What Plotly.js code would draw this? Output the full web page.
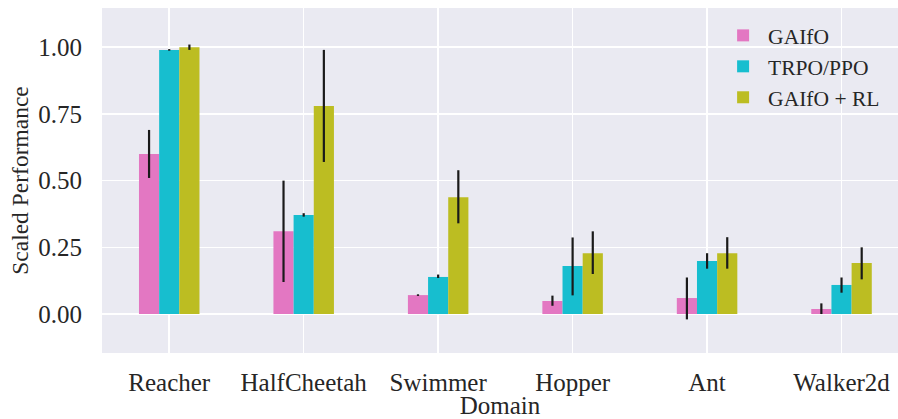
<!DOCTYPE html>
<html>
<head>
<meta charset="utf-8">
<script src="https://cdn.plot.ly/plotly-3.0.1.min.js"></script>
<style>html,body{margin:0;padding:0;background:#fff;}#chart{width:898px;height:419px;}</style>
</head>
<body>
<div id="chart"></div>
<script>
const categories = ["Reacher", "HalfCheetah", "Swimmer", "Hopper", "Ant", "Walker2d"];
const seriesNames = ["GAIfO", "TRPO/PPO", "GAIfO + RL"];

const gaifo      = [0.60, 0.31, 0.071, 0.049, 0.06, 0.019];
const gaifoLow   = [0.51, 0.12, 0.068, 0.031, -0.02, 0.00];
const gaifoHigh  = [0.69, 0.50, 0.074, 0.069, 0.137, 0.04];

const trpo       = [0.99, 0.371, 0.139, 0.18, 0.199, 0.109];
const trpoLow    = [0.987, 0.365, 0.135, 0.07, 0.17, 0.08];
const trpoHigh   = [0.993, 0.378, 0.148, 0.287, 0.228, 0.137];

const gaifoRL     = [1.00, 0.78, 0.438, 0.228, 0.228, 0.191];
const gaifoRLLow  = [0.99, 0.57, 0.34, 0.15, 0.17, 0.13];
const gaifoRLHigh = [1.01, 0.99, 0.539, 0.31, 0.288, 0.25];

const colors = ["#e377c2", "#17becf", "#bcbd22"];

function mk(name, vals, lo, hi, color) {
  return {
    type: "bar", name: name, x: categories, y: vals,
    marker: {color: color, line: {width: 0}},
    error_y: {
      type: "data", symmetric: false,
      array: vals.map((v, i) => hi[i] - v),
      arrayminus: vals.map((v, i) => v - lo[i]),
      color: "#1a1a1a", thickness: 2.2, width: 0
    }
  };
}

const data = [
  mk(seriesNames[0], gaifo, gaifoLow, gaifoHigh, colors[0]),
  mk(seriesNames[1], trpo, trpoLow, trpoHigh, colors[1]),
  mk(seriesNames[2], gaifoRL, gaifoRLLow, gaifoRLHigh, colors[2])
];

const FAM = "'Liberation Serif', 'Times New Roman', serif";
const font = {family: FAM, size: 25, color: "#262626"};

const layout = {
  width: 898, height: 419,
  margin: {l: 102, r: 0, t: 8, b: 66},
  paper_bgcolor: "#ffffff",
  plot_bgcolor: "#eaeaf2",
  font: font,
  barmode: "group",
  bargap: 0.55,
  bargroupgap: 0,
  showlegend: true,
  legend: {
    x: 0.774, y: 0.98, xanchor: "left", yanchor: "top",
    bgcolor: "rgba(0,0,0,0)", borderwidth: 0,
    font: {family: FAM, size: 21.5, color: "#262626"},
    itemwidth: 40, tracegroupgap: 0
  },
  xaxis: {
    type: "category",
    range: [-0.5, 5.42],
    showgrid: true, gridcolor: "#ffffff", gridwidth: 1.5,
    ticks: "", showline: false, zeroline: false,
    ticklabelstandoff: 12,
    tickfont: font,
    title: {text: "Domain", font: font, standoff: 7}
  },
  yaxis: {
    range: [-0.146, 1.147],
    tickvals: [0, 0.25, 0.5, 0.75, 1.0],
    ticktext: ["0.00", "0.25", "0.50", "0.75", "1.00"],
    showgrid: true, gridcolor: "#ffffff", gridwidth: 1.5,
    zeroline: false, ticks: "", showline: false,
    ticklabelstandoff: 19,
    tickfont: font,
    title: {text: "Scaled Performance", font: {family: FAM, size: 23.5, color: "#262626"}, standoff: 3}
  }
};

Plotly.newPlot("chart", data, layout, {displayModeBar: false, staticPlot: true});
</script>
</body>
</html>
